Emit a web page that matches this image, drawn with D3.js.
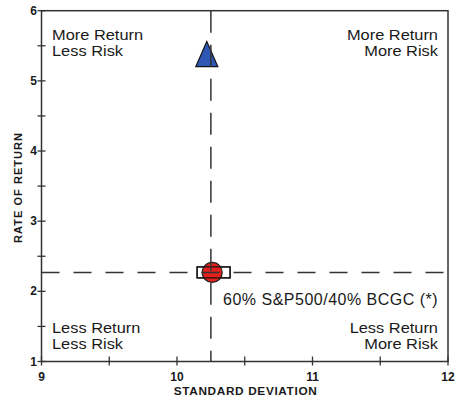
<!DOCTYPE html>
<html><head><meta charset="utf-8">
<script src="https://cdn.jsdelivr.net/npm/d3@7"></script>
<style>body{margin:0;background:#fff}svg{display:block}text{font-family:"Liberation Sans",Arial,sans-serif;fill:#1a1a1a}</style>
</head><body><svg id="c" width="456" height="401"></svg>
<script>
const xTicks = [9, 10, 11, 12];
const yTicks = [1, 2, 3, 4, 5, 6];
const xMinor = [9.5, 10.5, 11.5];
const yMinor = [1.5, 2.5, 3.5, 4.5, 5.5];
const refPoint = {x: 10.25, y: 2.27};
const triangle = {x: 10.22, y: 5.36};
const circle = {x: 10.26, y: 2.27};
const rectPt = {x: 10.27, y: 2.27};
const quadrantLabels = [
  {lines: ["More Return", "Less Risk"], pos: "tl"},
  {lines: ["More Return", "More Risk"], pos: "tr"},
  {lines: ["Less Return", "Less Risk"], pos: "bl"},
  {lines: ["Less Return", "More Risk"], pos: "br"}
];
const pointLabel = "60% S&P500/40% BCGC (*)";

const svg = d3.select("#c");
const L = 41.5, R = 448, T = 10.7, B = 361.5;
const x = d3.scaleLinear().domain([9, 12]).range([L, R]);
const y = d3.scaleLinear().domain([1, 6]).range([B, T]);
const col = "#333";

// frame
svg.append("rect").attr("x", L).attr("y", T).attr("width", R - L).attr("height", B - T)
  .attr("fill", "none").attr("stroke", col).attr("stroke-width", 1.5);

// ticks
const xt = svg.append("g");
xTicks.concat(xMinor).forEach(v => {
  xt.append("line").attr("x1", x(v)).attr("x2", x(v)).attr("y1", B - 5).attr("y2", B + 4)
    .attr("stroke", col).attr("stroke-width", 1.3);
});
xTicks.forEach(v => {
  xt.append("text").attr("x", x(v)).attr("y", 381).attr("text-anchor", "middle")
    .attr("font-size", 12).attr("font-weight", "bold").text(v);
});
yTicks.concat(yMinor).forEach(v => {
  xt.append("line").attr("x1", L - 4).attr("x2", L + 4).attr("y1", y(v)).attr("y2", y(v))
    .attr("stroke", col).attr("stroke-width", 1.3);
});
yTicks.forEach(v => {
  xt.append("text").attr("x", 37).attr("y", y(v) + 4).attr("text-anchor", "end")
    .attr("font-size", 12).attr("font-weight", "bold").text(v);
});

// axis titles
svg.append("text").attr("x", (L + R) / 2 + 0.5).attr("y", 395).attr("text-anchor", "middle")
  .attr("font-size", 11.8).attr("font-weight", "bold").attr("textLength", 143).text("STANDARD DEVIATION");
svg.append("text").attr("transform", `translate(22,188) rotate(-90)`).attr("text-anchor", "middle")
  .attr("font-size", 11).attr("font-weight", "bold").attr("textLength", 110).text("RATE OF RETURN");

// quadrant labels
quadrantLabels.forEach(q => {
  const right = q.pos[1] === "r";
  const top = q.pos[0] === "t";
  const tx = right ? 438 : 52;
  const ty0 = top ? 39.5 : 332.5;
  q.lines.forEach((s, i) => {
    const t = svg.append("text").attr("x", tx).attr("y", ty0 + i * 16.5).attr("text-anchor", right ? "end" : "start")
      .attr("font-size", 14.5).text(s);
    const w = t.node().getComputedTextLength();
    t.attr("textLength", w * 1.13).attr("lengthAdjust", "spacingAndGlyphs");
  });
});

// triangle
const tx = x(triangle.x), ty = y(triangle.y);
svg.append("path").attr("d", `M${tx},${ty - 14}L${tx + 11},${ty + 11}L${tx - 11},${ty + 11}Z`)
  .attr("fill", "#2e58b4").attr("stroke", "#111").attr("stroke-width", 1.2);

// rect white fill
const rw = 33, rh = 11;
svg.append("rect").attr("x", x(rectPt.x) - rw / 2).attr("y", y(rectPt.y) - rh / 2).attr("width", rw).attr("height", rh)
  .attr("fill", "#fff").attr("stroke", "#111").attr("stroke-width", 1.2);
// circle
svg.append("circle").attr("cx", x(circle.x)).attr("cy", y(circle.y)).attr("r", 10)
  .attr("fill", "#e3201c").attr("stroke", "#222").attr("stroke-width", 1.2);
// rect outline on top
svg.append("rect").attr("x", x(rectPt.x) - rw / 2).attr("y", y(rectPt.y) - rh / 2).attr("width", rw).attr("height", rh)
  .attr("fill", "none").attr("stroke", "#111").attr("stroke-width", 1.2);

// dashed reference lines
svg.append("line").attr("x1", x(refPoint.x)).attr("x2", x(refPoint.x)).attr("y1", T).attr("y2", B)
  .attr("stroke", col).attr("stroke-width", 1.5).attr("stroke-dasharray", "22,12");
svg.append("line").attr("x1", L).attr("x2", R).attr("y1", y(refPoint.y)).attr("y2", y(refPoint.y))
  .attr("stroke", col).attr("stroke-width", 1.5).attr("stroke-dasharray", "18,14");

// point label
svg.append("text").attr("x", 223).attr("y", 305).attr("font-size", 16).attr("letter-spacing", 0.5).text(pointLabel);
</script></body></html>
